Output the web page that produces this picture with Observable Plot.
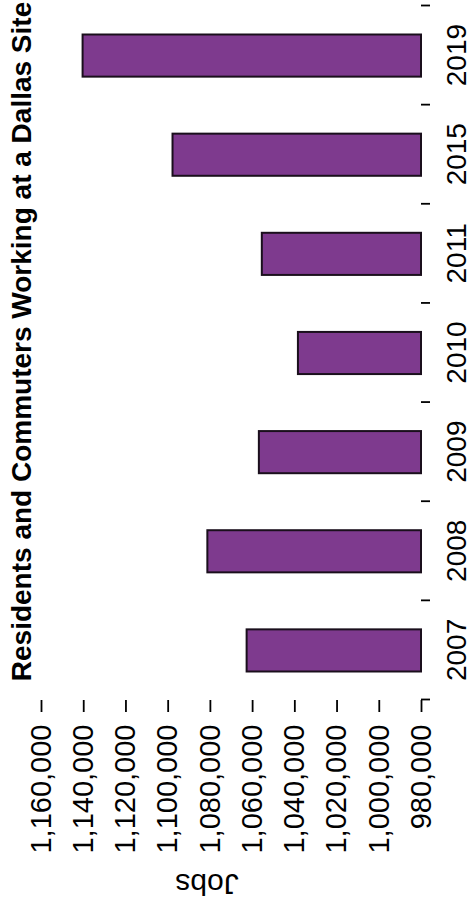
<!DOCTYPE html>
<html>
<head>
<meta charset="utf-8">
<script src="https://cdn.jsdelivr.net/npm/d3@7"></script>
<script src="https://cdn.jsdelivr.net/npm/@observablehq/plot@0.6"></script>
<style>
  html, body { margin: 0; padding: 0; background: #fff; overflow: hidden; width: 473px; height: 906px; }
  #chart { position: absolute; left: 0; top: 0; width: 906px; height: 473px;
           transform-origin: 0 0; transform: translate(0px, 906px) rotate(-90deg); }
</style>
</head>
<body>
<div id="chart"></div>
<script>
// ---- data ----
const years = ["2007", "2008", "2009", "2010", "2011", "2015", "2019"];
const jobs = [1062600, 1081200, 1056800, 1038300, 1055400, 1097700, 1140300];
const valueTicks = [980000, 1000000, 1020000, 1040000, 1060000, 1080000, 1100000, 1120000, 1140000, 1160000];
const title = "Residents and Commuters Working at a Dallas Site";
const yLabel = "Jobs";

const data = years.map((y, i) => ({year: y, jobs: jobs[i]}));

// ---- layout (unrotated frame: 906 wide x 473 tall; page rotates it -90deg) ----
const W = 906, H = 473;
const mL = 206, mR = 6, mT = 41, mB = 52;
const step = (W - mL - mR) / years.length;
const barFill = "#7e3a8e";
const font = "'Liberation Sans', Arial, Helvetica, sans-serif";

const chart = Plot.plot({
  width: W,
  height: H,
  marginLeft: mL,
  marginRight: mR,
  marginTop: mT,
  marginBottom: mB,
  style: {fontFamily: font, background: "#fff", color: "#000", overflow: "visible"},
  x: {domain: years, paddingInner: 0.575, paddingOuter: 0.2875, round: false, axis: null},
  y: {domain: [valueTicks[0], valueTicks[valueTicks.length - 1]], axis: null},
  marks: [
    Plot.barY(data, {x: "year", y1: valueTicks[0], y2: "jobs", fill: barFill, stroke: "#1a0f1c", strokeWidth: 2}),
    Plot.axisY({ticks: valueTicks, tickSize: 12, tickPadding: 13, tickFormat: d3.format(","),
                fontSize: 29, line: true, stroke: "#000", strokeWidth: 1.8, label: null}),
    Plot.axisX({tickSize: 0, tickPadding: 25, fontSize: 28, line: true, stroke: "#000", strokeWidth: 1.8, label: null}),
    Plot.axisX({tickSize: 9, dx: -step / 2, tickFormat: () => "", stroke: "#000", strokeWidth: 1.8, label: null}),
    Plot.axisX({ticks: [years[years.length - 1]], tickSize: 9, dx: step / 2, tickFormat: () => "",
                stroke: "#000", strokeWidth: 1.8, label: null}),
    Plot.text([yLabel], {text: d => d, frameAnchor: "left", rotate: -90, dx: -184.5, dy: -24.5,
                         fontSize: 30, textAnchor: "middle", lineAnchor: "middle", fill: "#000"}),
    Plot.text([title], {text: d => d, frameAnchor: "top", dx: 11, dy: -30, lineAnchor: "top",
                        textAnchor: "middle", fontSize: 28, fontWeight: "bold", fill: "#000"})
  ]
});

document.getElementById("chart").appendChild(chart);
</script>
</body>
</html>
